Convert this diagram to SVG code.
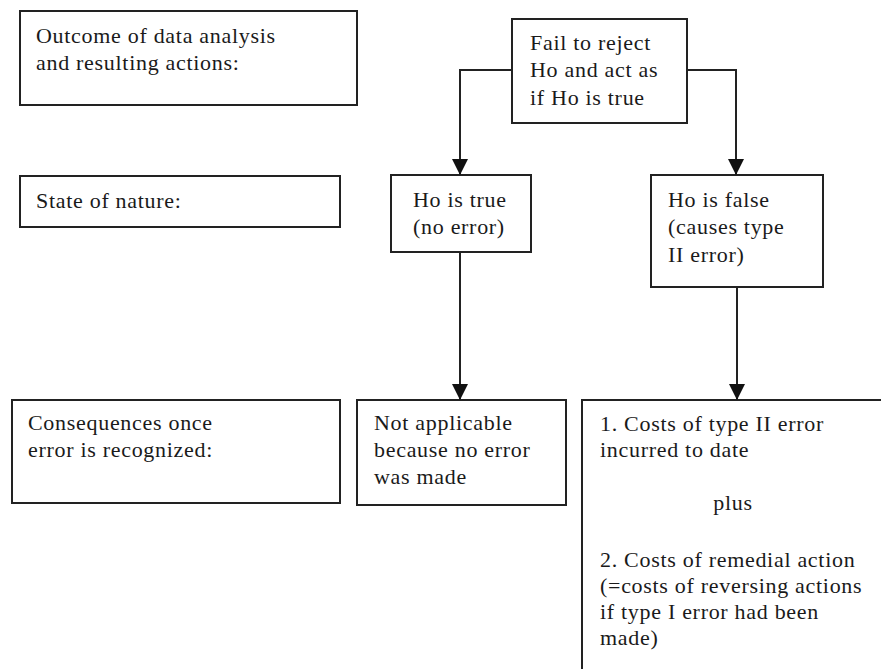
<svg xmlns="http://www.w3.org/2000/svg" width="881" height="669" viewBox="0 0 881 669">
  <style>
    .box { fill: #ffffff; stroke: #222222; stroke-width: 2; }
    .t { font-family: "Liberation Serif", "Times New Roman", serif; font-size: 22px; letter-spacing: 0.7px; fill: #1a1a1a; }
    .c { fill: none; stroke: #222222; stroke-width: 2; }
  </style>
  <defs>
    <marker id="arrow" markerUnits="userSpaceOnUse" markerWidth="18" markerHeight="18" refX="16" refY="8" orient="auto">
      <path d="M0,0 L16,8 L0,16 Z" fill="#111111"/>
    </marker>
  </defs>
  <rect width="881" height="669" fill="#ffffff"/>

  <g id="outcome-label">
    <rect class="box" x="20" y="11" width="337" height="94"/>
    <text class="t" x="36" y="43">Outcome of data analysis</text>
    <text class="t" x="36" y="70">and resulting actions:</text>
  </g>

  <g id="fail-to-reject">
    <rect class="box" x="512" y="19" width="175" height="104"/>
    <text class="t" x="530" y="50">Fail to reject</text>
    <text class="t" x="530" y="77">Ho and act as</text>
    <text class="t" x="530" y="105">if Ho is true</text>
  </g>

  <g id="state-label">
    <rect class="box" x="20" y="176" width="320" height="51"/>
    <text class="t" x="36" y="208">State of nature:</text>
  </g>

  <g id="ho-true">
    <rect class="box" x="391" y="175" width="140" height="77"/>
    <text class="t" x="413" y="207">Ho is true</text>
    <text class="t" x="413" y="234">(no error)</text>
  </g>

  <g id="ho-false">
    <rect class="box" x="651" y="175" width="172" height="112"/>
    <text class="t" x="668" y="207">Ho is false</text>
    <text class="t" x="668" y="234">(causes type</text>
    <text class="t" x="668" y="262">II error)</text>
  </g>

  <g id="consequences-label">
    <rect class="box" x="12" y="400" width="328" height="103"/>
    <text class="t" x="28" y="430">Consequences once</text>
    <text class="t" x="28" y="457">error is recognized:</text>
  </g>

  <g id="not-applicable">
    <rect class="box" x="357" y="400" width="209" height="105"/>
    <text class="t" x="374" y="430">Not applicable</text>
    <text class="t" x="374" y="457">because no error</text>
    <text class="t" x="374" y="484">was made</text>
  </g>

  <g id="costs">
    <rect class="box" x="582" y="400" width="320" height="290"/>
    <text class="t" x="600" y="431">1. Costs of type II error</text>
    <text class="t" x="600" y="457">incurred to date</text>
    <text class="t" x="733" y="510" text-anchor="middle">plus</text>
    <text class="t" x="600" y="567">2. Costs of remedial action</text>
    <text class="t" x="600" y="593">(=costs of reversing actions</text>
    <text class="t" x="600" y="619">if type I error had been</text>
    <text class="t" x="600" y="645">made)</text>
  </g>

  <g id="connectors">
    <path class="c" d="M512,70 H460 V175" marker-end="url(#arrow)"/>
    <path class="c" d="M687,70 H736 V175" marker-end="url(#arrow)"/>
    <path class="c" d="M460,252 V400" marker-end="url(#arrow)"/>
    <path class="c" d="M737,287 V400" marker-end="url(#arrow)"/>
  </g>
</svg>
